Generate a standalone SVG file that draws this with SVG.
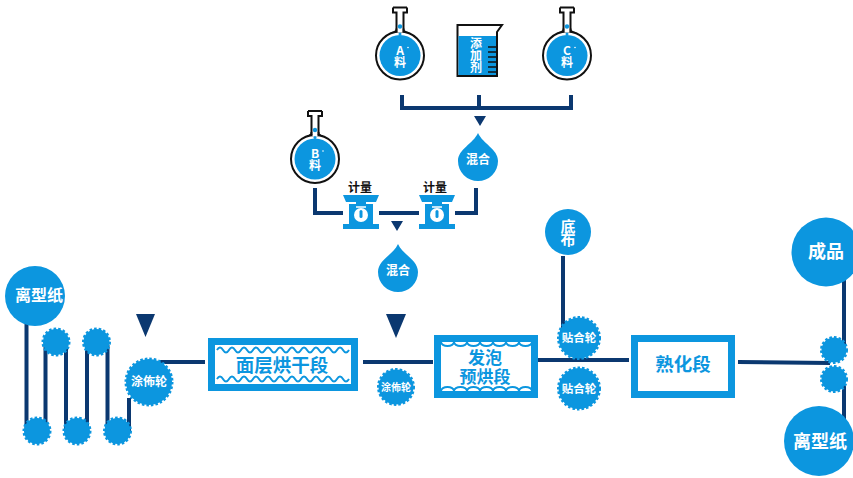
<svg xmlns="http://www.w3.org/2000/svg" width="853" height="478" viewBox="0 0 853 478">
<style>
text{font-family:"Noto Sans CJK SC","Noto Sans",sans-serif;font-weight:700;text-anchor:middle}
.w{fill:#fff}.b{fill:#0c96df}.k{fill:#111}
.v{writing-mode:vertical-rl;text-orientation:upright}
.ln{fill:none;stroke:#0b3870;stroke-width:4}
.box{fill:#fff;stroke:#0c96df;stroke-width:7}
.wave{fill:none;stroke:#0c96df;stroke-width:2}
.gear{fill:#0c96df;stroke:#0c96df;stroke-width:3;stroke-dasharray:2.500 2}
.tri{fill:#0b3870}
</style>
<defs>
<g id="flask">
<path d="M-7 -48H7M-7 -48V-43H-3.500V-26Q-3.500 -24 -8 -22.500M7 -48V-43H3.500V-26Q3.500 -24 8 -22.500" fill="none" stroke="#111" stroke-width="2"/>
<circle r="24" fill="#fff" stroke="#111" stroke-width="2"/>
<path d="M-2.500 -27H2.500V-23H-2.500Z" fill="#fff"/>
<path d="M-3.500 -27V-24M3.500 -27V-24" stroke="#111" stroke-width="2"/>
<circle r="20.500" class="b"/>
<circle cy="-21.500" r="1.500" class="b"/>
<circle cy="-29" r="2.200" class="b"/>
<circle cx="8" cy="-8" r="0.800" class="w"/>
</g>
<g id="scale">
<path class="b" d="M-18 -18H18L15 -11H5V-9H12V11H18V16H-18V11H-12V-9H-5V-11H-15Z"/>
<path d="M-5 -6H5" stroke="#fff" stroke-width="1.500"/>
<circle cy="2" r="7" fill="#fff"/>
<rect x="-1.500" y="-3" width="3" height="8" rx="1.500" class="b"/>
</g>
</defs>
<g id="connectors">
<path class="ln" d="M402 95V108H571V95M479 95V108"/>
<path class="ln" d="M315 188V213H343M379 213H419M455 213H476V188"/>
<path class="ln" d="M26.500 320V432M45.500 345V430M66 345V430M87 345V430M107.500 345V430M129 432V398M160 362H205"/>
<path class="ln" d="M363 362H433M538 360H629M563 256V330M738 362L830 363M844 280V350M844 385V420"/>
</g>
<g id="tri1"><path class="tri" d="M474 116H486L480 126Z"/></g>
<g id="tri2"><path class="tri" d="M391 221H403L397 231Z"/></g>
<g id="tri3"><path class="tri" d="M136 314H155L145.500 337Z"/></g>
<g id="tri4"><path class="tri" d="M386 314H406L396 338Z"/></g>
<g id="flaskA"><use href="#flask" x="400" y="55.500"/><text class="w v" x="400" y="56" font-size="12">A料</text></g>
<g id="beaker">
<path d="M457.500 25H502L497 32V76H457.500Z" fill="#fff" stroke="#111" stroke-width="2"/>
<rect x="458.500" y="36" width="37.500" height="39" class="b"/>
<path d="M488 47H496M488 52H496M488 57H496M488 62H496M488 67H496M488 72H496" stroke="#111" stroke-width="1.500"/>
<text class="w v" x="476" y="55" font-size="12">添加剂</text>
</g>
<g id="flaskC"><use href="#flask" x="567" y="55.500"/><text class="w v" x="567" y="56" font-size="12">C料</text></g>
<g id="flaskB"><use href="#flask" x="315" y="159"/><text class="w v" x="315" y="159.500" font-size="12">B料</text></g>
<g id="mix1"><path class="b" d="M478 133C473 144 458 149 458 161A20 20 0 0 0 498 161C498 149 483 144 478 133Z"/><text class="w" x="478" y="164" font-size="12">混合</text></g>
<g id="mix2"><path class="b" d="M398 244C393 255 378 260 378 272A20 20 0 0 0 418 272C418 260 403 255 398 244Z"/><text class="w" x="398" y="275" font-size="12">混合</text></g>
<g id="scale1"><use href="#scale" x="361" y="213"/><text class="k" x="360" y="192" font-size="12">计量</text></g>
<g id="scale2"><use href="#scale" x="437" y="213"/><text class="k" x="435" y="192" font-size="12">计量</text></g>
<g id="paperL"><circle cx="35" cy="296" r="30" class="b"/><text class="w" x="39" y="301" font-size="16">离型纸</text></g>
<g id="g1"><circle cx="56" cy="342" r="13" class="gear"/></g>
<g id="g2"><circle cx="96.500" cy="342" r="13" class="gear"/></g>
<g id="g3"><circle cx="37" cy="431" r="13" class="gear"/></g>
<g id="g4"><circle cx="77" cy="431" r="13" class="gear"/></g>
<g id="g5"><circle cx="117.500" cy="431" r="13" class="gear"/></g>
<g id="coat1"><circle cx="149" cy="382" r="23" class="gear"/><text class="w" x="149" y="386" font-size="12">涂佈轮</text></g>
<g id="dry1">
<rect class="box" x="211.500" y="341.500" width="143" height="46"/>
<path class="wave" d="M217 350q3 -5 6 0q3 5 6 0q3 -5 6 0q3 5 6 0q3 -5 6 0q3 5 6 0q3 -5 6 0q3 5 6 0q3 -5 6 0q3 5 6 0q3 -5 6 0q3 5 6 0q3 -5 6 0q3 5 6 0q3 -5 6 0q3 5 6 0q3 -5 6 0q3 5 6 0q3 -5 6 0q3 5 6 0q3 -5 6 0q3 5 6 0"/>
<path class="wave" d="M217 379q3 -5 6 0q3 5 6 0q3 -5 6 0q3 5 6 0q3 -5 6 0q3 5 6 0q3 -5 6 0q3 5 6 0q3 -5 6 0q3 5 6 0q3 -5 6 0q3 5 6 0q3 -5 6 0q3 5 6 0q3 -5 6 0q3 5 6 0q3 -5 6 0q3 5 6 0q3 -5 6 0q3 5 6 0q3 -5 6 0q3 5 6 0"/>
<text class="b" x="282" y="372" font-size="18.500">面层烘干段</text>
</g>
<g id="coat2"><circle cx="396" cy="387" r="17.500" class="gear"/><text class="w" x="396" y="391" font-size="10">涂佈轮</text></g>
<g id="dry2">
<rect class="box" x="437.500" y="338.500" width="97" height="56"/>
<path class="wave" d="M441 342a6.500 4 0 0 0 13 0a6.500 4 0 0 0 13 0a6.500 4 0 0 0 13 0a6.500 4 0 0 0 13 0a6.500 4 0 0 0 13 0a6.500 4 0 0 0 13 0a6.500 4 0 0 0 13 0"/>
<path class="wave" d="M441 391a6.500 4 0 0 1 13 0a6.500 4 0 0 1 13 0a6.500 4 0 0 1 13 0a6.500 4 0 0 1 13 0a6.500 4 0 0 1 13 0a6.500 4 0 0 1 13 0a6.500 4 0 0 1 13 0"/>
<text class="b" x="485" y="364" font-size="17">发泡</text><text class="b" x="485" y="382.500" font-size="17">预烘段</text>
</g>
<g id="cloth"><circle cx="568" cy="232" r="23" class="b"/><text class="w v" x="568" y="232" font-size="15" letter-spacing="-2">底布</text></g>
<g id="lam1"><circle cx="579" cy="338" r="20.500" class="gear"/><text class="w" x="579" y="342" font-size="11.500">贴合轮</text></g>
<g id="lam2"><circle cx="579" cy="388.500" r="20.500" class="gear"/><text class="w" x="579" y="392.500" font-size="11.500">贴合轮</text></g>
<g id="cure"><rect class="box" x="634.500" y="338.500" width="97" height="56"/><text class="b" x="683" y="371" font-size="18.500">熟化段</text></g>
<g id="g6"><circle cx="834" cy="350" r="12.500" class="gear"/></g>
<g id="g7"><circle cx="834" cy="379" r="12.500" class="gear"/></g>
<g id="product"><circle cx="826" cy="252" r="34.500" class="b"/><text class="w" x="826" y="258" font-size="18">成品</text></g>
<g id="paperR"><circle cx="819" cy="441" r="35" class="b"/><text class="w" x="820" y="447.500" font-size="18">离型纸</text></g>
</svg>
